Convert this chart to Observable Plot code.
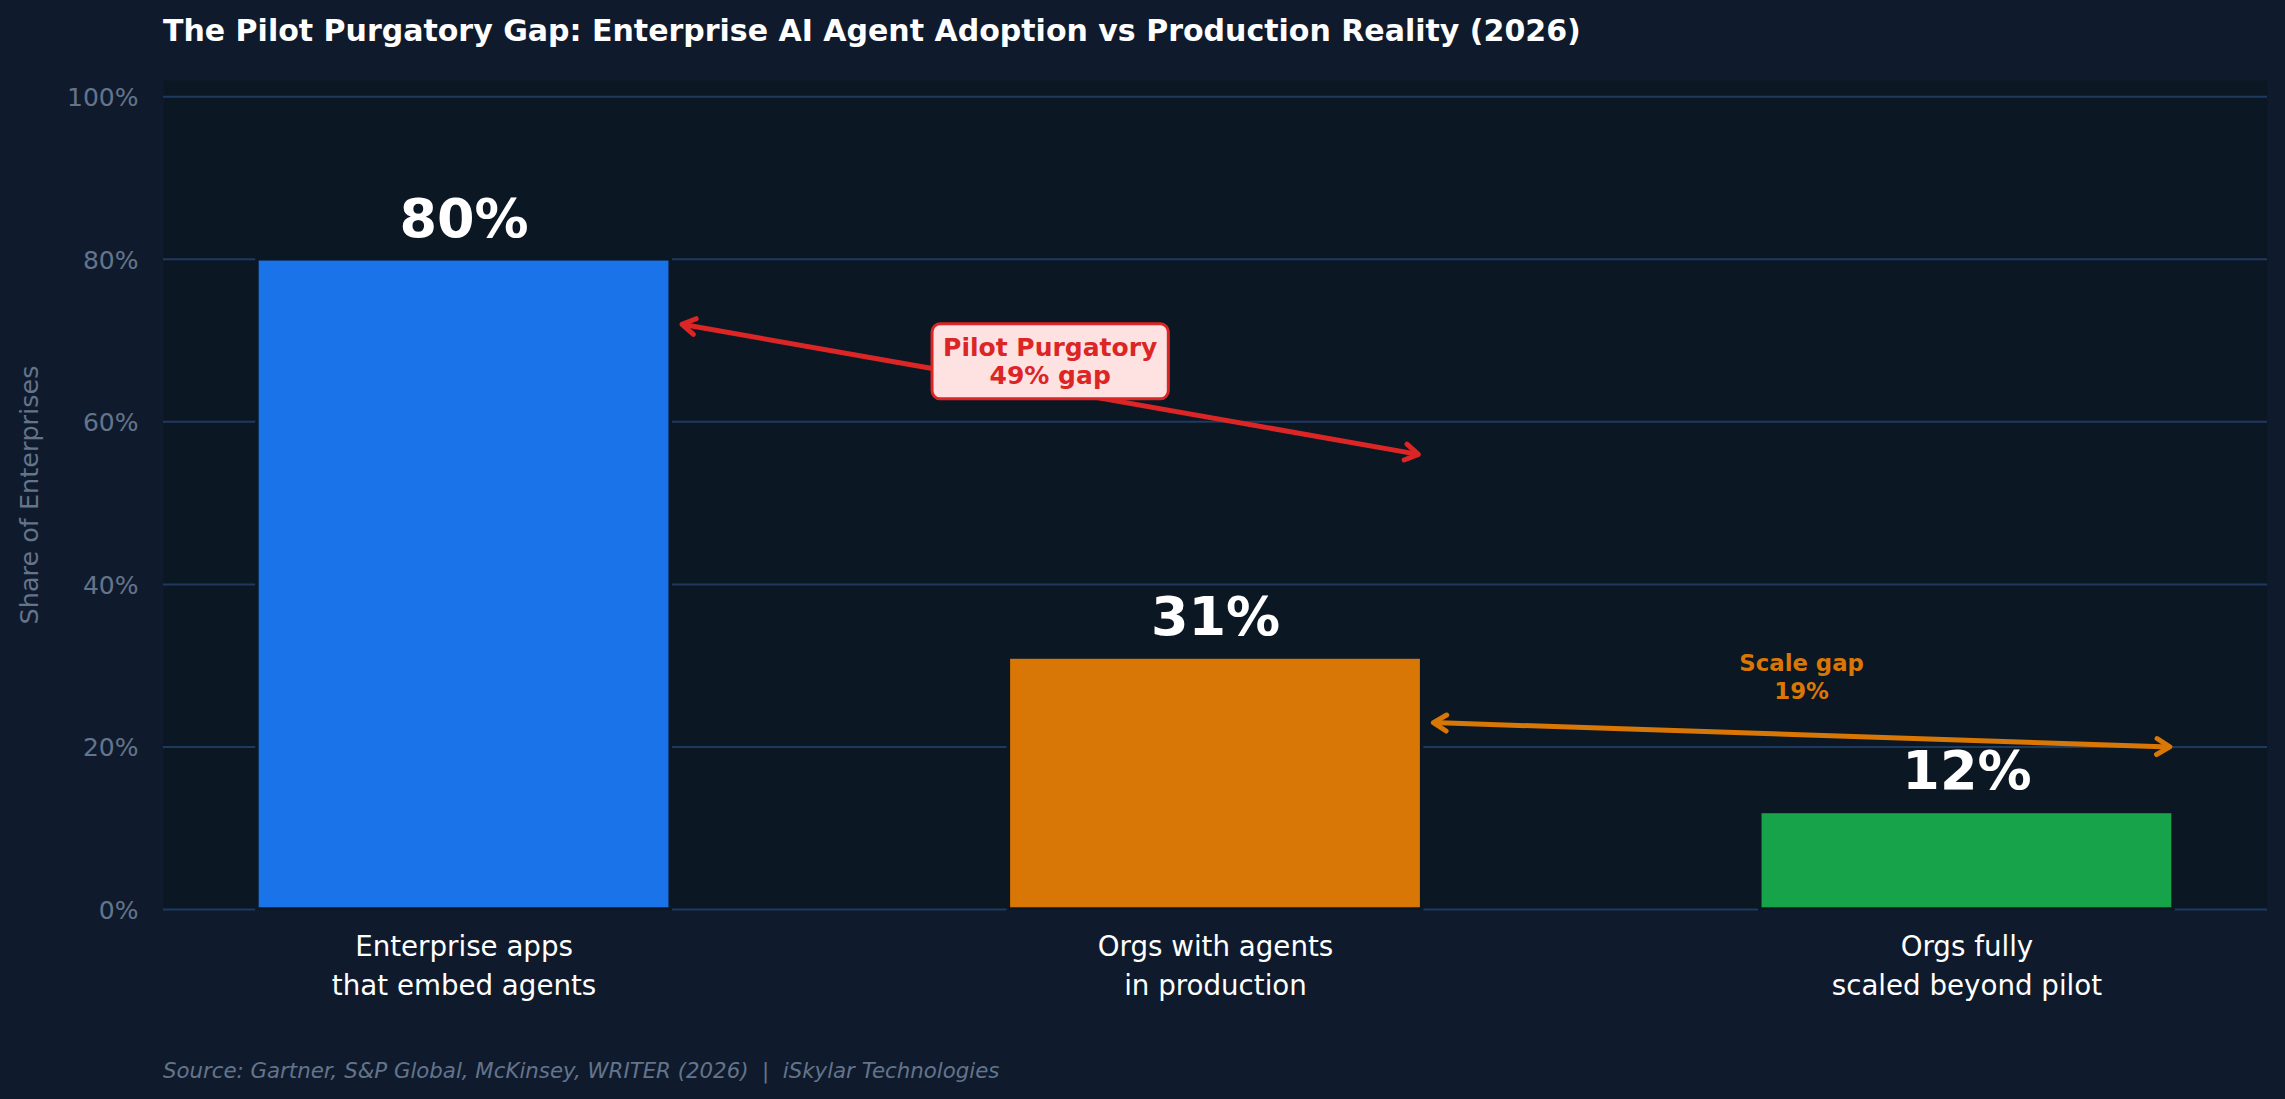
<!DOCTYPE html>
<html><head><meta charset="utf-8">
<script src="https://cdn.jsdelivr.net/npm/d3@7"></script>
<script src="https://cdn.jsdelivr.net/npm/@observablehq/plot@0.6"></script>
<style>
html,body{margin:0;padding:0;background:#0f1b2d;}
#page{position:relative;width:2285px;height:1099px;background:#0f1b2d;overflow:hidden;font-family:"DejaVu Sans",sans-serif;}
#title{position:absolute;left:163px;top:16px;font-size:30px;line-height:1;font-weight:bold;color:#ffffff;white-space:pre;}
#chart{position:absolute;left:0;top:60px;}
#source{position:absolute;left:163px;top:1059.5px;font-size:21.3px;line-height:1;font-style:italic;color:#64748b;white-space:pre;}
</style></head>
<body><div id="page"><div id="title"></div><div id="chart"></div><div id="source"></div></div>
<script>
// ---- data ----
const categories = ["Enterprise apps\nthat embed agents", "Orgs with agents\nin production", "Orgs fully\nscaled beyond pilot"];
const values = [80, 31, 12];
const valueLabels = ["80%", "31%", "12%"];
const barColors = ["#1a73e8", "#d97706", "#16a34a"];
const yTicks = [0, 20, 40, 60, 80, 100];
const titleText = "The Pilot Purgatory Gap: Enterprise AI Agent Adoption vs Production Reality (2026)";
const sourceText = "Source: Gartner, S&P Global, McKinsey, WRITER (2026)  |  iSkylar Technologies";
const yLabel = "Share of Enterprises";
// annotations in data coordinates (x: category index, y: percent)
const pilotArrow = [{x1: 0.29, y1: 72, x2: 1.27, y2: 56}];
const scaleArrow = [{x1: 1.29, y1: 23, x2: 2.27, y2: 20}];
const pilotNote = [{x: 0.78, y: 67.5, text: "Pilot Purgatory\n49% gap"}];
const scaleNote = [{x: 1.78, y: 28.75, text: "Scale gap\n19%"}];

document.getElementById("title").textContent = titleText;
document.getElementById("source").textContent = sourceText;

const rows = categories.map((c, i) => ({i, category: c, value: values[i], label: valueLabels[i]}));
const BAR_W = 0.55;
const PLOT_BG = "#0c1724";

// open chevron arrowhead (matplotlib "<->" style), same in both directions
function chevron(color) {
  const ns = "http://www.w3.org/2000/svg";
  const m = document.createElementNS(ns, "marker");
  m.setAttribute("viewBox", "-20 -12 24 24");
  m.setAttribute("markerWidth", 24);
  m.setAttribute("markerHeight", 24);
  m.setAttribute("markerUnits", "userSpaceOnUse");
  m.setAttribute("orient", "auto-start-reverse");
  m.setAttribute("overflow", "visible");
  const p = document.createElementNS(ns, "path");
  p.setAttribute("d", "M-13,-8L0,0L-13,8");
  p.setAttribute("fill", "none");
  p.setAttribute("stroke", color);
  p.setAttribute("stroke-width", 5);
  p.setAttribute("stroke-linecap", "round");
  p.setAttribute("stroke-linejoin", "round");
  m.appendChild(p);
  return m;
}

const plot = Plot.plot({
  width: 2285, height: 960,
  marginTop: 20, marginBottom: 111, marginLeft: 163, marginRight: 18,
  style: {background: "transparent", fontFamily: "DejaVu Sans", color: "#64748b", overflow: "visible"},
  x: {domain: [-0.4, 2.4]},
  y: {domain: [0, 102]},
  color: {domain: categories, range: barColors},
  marks: [
    Plot.frame({fill: PLOT_BG, stroke: "none"}),
    Plot.gridY(yTicks, {stroke: "#1e3a5f", strokeOpacity: 1, strokeWidth: 2}),
    Plot.axisY(yTicks, {tickSize: 0, tickPadding: 25, tickFormat: d => d + "%", fontSize: 25, fill: "#64748b", dy: 1.5, label: null}),
    Plot.axisY([], {fontSize: 25.5, fill: "#64748b", label: yLabel, labelAnchor: "center", labelArrow: "none", labelOffset: 144}),
    Plot.axisX([0, 1, 2], {tickSize: 0, tickPadding: 19, tickFormat: i => categories[i], fontSize: 27.7, fill: "#ffffff", lineHeight: 1.4, label: null}),
    Plot.rectY(rows, {x1: d => d.i - BAR_W / 2, x2: d => d.i + BAR_W / 2, y: "value", fill: "category", stroke: PLOT_BG, strokeWidth: 3.5}),
    Plot.text(rows, {x: "i", y: "value", text: "label", dy: -40, fontSize: 54, fontWeight: "bold", fill: "#ffffff"}),
    Plot.link(pilotArrow, {x1: "x1", y1: "y1", x2: "x2", y2: "y2", stroke: "#dc2626", strokeWidth: 5, markerStart: chevron, markerEnd: chevron}),
    Plot.link(scaleArrow, {x1: "x1", y1: "y1", x2: "x2", y2: "y2", stroke: "#d97706", strokeWidth: 5, markerStart: chevron, markerEnd: chevron}),
    Plot.text(pilotNote, {x: "x", y: "y", text: "text", fontSize: 25, fontWeight: "bold", fill: "#dc2626", lineHeight: 1.12}),
    Plot.text(scaleNote, {x: "x", y: "y", text: "text", fontSize: 22.8, fontWeight: "bold", fill: "#d97706", lineHeight: 1.23})
  ]
});
document.getElementById("chart").append(plot);

// rounded box behind the "Pilot Purgatory" note
d3.select(plot).selectAll("text")
  .filter(function () { return this.textContent.startsWith("Pilot Purgatory"); })
  .each(function () {
    const b = this.getBBox();
    const padX = 11, padY = 9;
    const r = document.createElementNS("http://www.w3.org/2000/svg", "rect");
    r.setAttribute("x", b.x - padX);
    r.setAttribute("y", b.y - padY);
    r.setAttribute("width", b.width + 2 * padX);
    r.setAttribute("height", b.height + 2 * padY);
    r.setAttribute("rx", 8);
    r.setAttribute("fill", "#fee2e2");
    r.setAttribute("stroke", "#dc2626");
    r.setAttribute("stroke-width", 3);
    const tr = this.getAttribute("transform");
    if (tr) r.setAttribute("transform", tr);
    this.parentNode.insertBefore(r, this);
  });
</script>
</body></html>
